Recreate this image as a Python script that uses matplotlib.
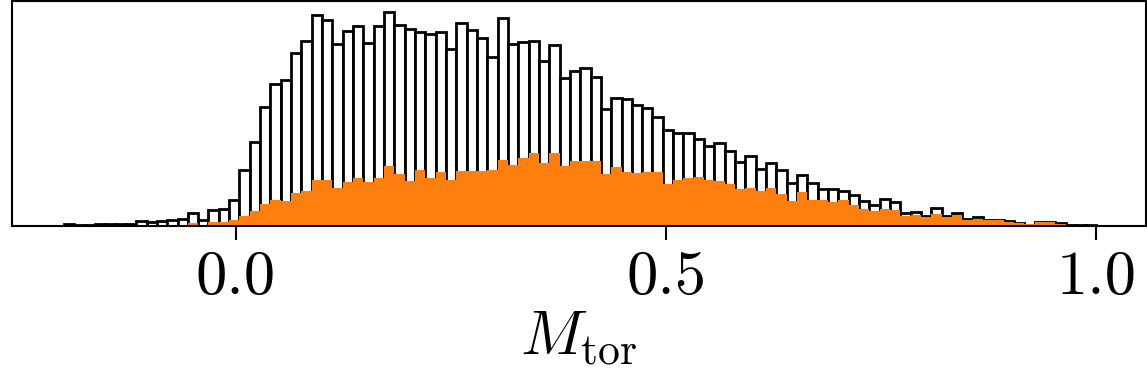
import numpy as np
import matplotlib.pyplot as plt

plt.rcParams['font.family'] = 'serif'
plt.rcParams['font.serif'] = ['cmr10']
plt.rcParams['mathtext.fontset'] = 'cm'
plt.rcParams['axes.formatter.use_mathtext'] = True

# histogram bins: 100 bins between -0.2 and 1.0
bin_lo, bin_hi, n_bins = -0.2, 1.0, 100
edges = np.linspace(bin_lo, bin_hi, n_bins + 1)

# all-sample counts (arbitrary units)
counts_all = [2, 1.5, 1.5, 2.5, 2.5, 2, 2, 5.5, 4, 5,
              6.5, 7.5, 13.5, 6.5, 16, 17, 26, 56, 84, 119,
              142, 146, 173, 185, 211, 206, 182, 195, 200, 183,
              200, 214, 201, 197, 194, 192, 194, 177, 203, 196,
              188, 169, 208, 182, 184, 185, 165, 181, 148, 155,
              158, 149, 117, 128, 127, 121, 118, 109, 96, 93,
              93, 87, 80, 83, 75, 64, 70, 57, 63, 56,
              43, 51, 43, 37, 37, 35, 31, 25, 21, 27,
              24, 13, 14, 10.5, 18, 10, 13, 7.5, 9, 6,
              6, 5.5, 3.5, 1.5, 4, 4, 3, 1, 1, 1]

# selected-sample counts
counts_sel = [0, 0, 0, 0, 0, 0, 0, 0, 0.3, 0.5,
              0.5, 0.7, 3.3, 1, 4.3, 4.5, 6, 10, 15, 22,
              26, 25, 33, 35, 46, 46, 38, 44, 48, 44,
              48, 60, 52, 45, 56, 48, 54, 46, 55, 55,
              55, 56, 66, 61, 68, 73, 63, 73, 60, 65,
              65, 65, 52, 59, 54, 53, 54, 54, 42, 46,
              48, 49, 46, 45, 42, 37, 38, 35, 38, 32,
              25, 34, 26, 26, 24, 26, 21, 17, 15, 17,
              16, 10, 11, 8.7, 12.5, 9.5, 11, 6.5, 7.5, 5.7,
              6, 4.3, 3.5, 1.8, 3.8, 3.8, 2.5, 0, 0, 0]

tick_vals = [0.0, 0.5, 1.0]
tick_labels = ['0.0', '0.5', '1.0']

fig = plt.figure(figsize=(11.47, 3.9), dpi=100)
ax = fig.add_axes([0.0105, 0.4205, 0.9886, 0.577])

ax.bar(edges[:-1], counts_all, width=np.diff(edges), align='edge',
       facecolor='white', edgecolor='black', linewidth=2.0)
ax.stairs(counts_sel, edges, fill=True, color='#ff7f0e')

ax.set_xlim(-0.2603, 1.0575)
ax.set_ylim(0, 225)
ax.set_yticks([])
ax.set_xticks(tick_vals)
ax.set_xticklabels(tick_labels, fontsize=45)
ax.tick_params(axis='x', length=10, width=1.5, pad=8)
for s in ax.spines.values():
    s.set_linewidth(1.5)
ax.set_xlabel(r'$M_\mathrm{tor}$', fontsize=45, labelpad=2)

fig.savefig('out.png', dpi=100)
